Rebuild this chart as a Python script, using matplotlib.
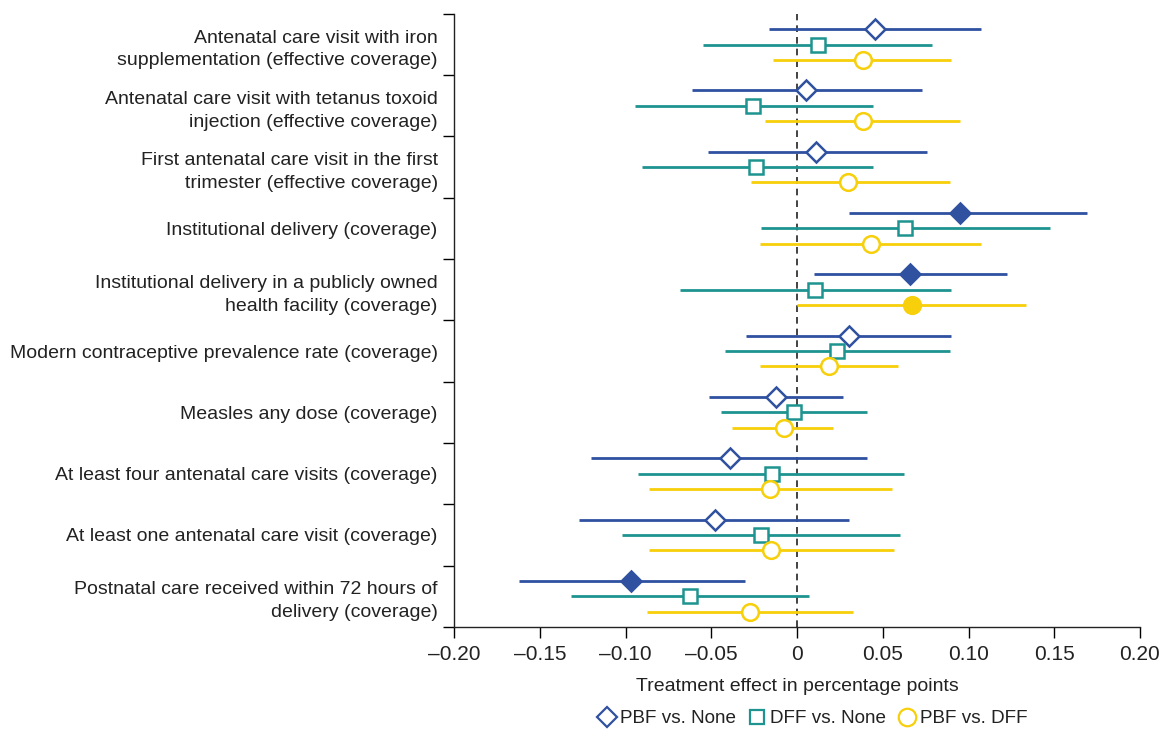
import numpy as np
import matplotlib
matplotlib.use('Agg')
import matplotlib.pyplot as plt
from matplotlib.lines import Line2D

plt.rcParams['font.family'] = ['Liberation Sans', 'DejaVu Sans']

outcomes = [
    'Antenatal care visit with iron\nsupplementation (effective coverage)',
    'Antenatal care visit with tetanus toxoid\ninjection (effective coverage)',
    'First antenatal care visit in the first\ntrimester (effective coverage)',
    'Institutional delivery (coverage)',
    'Institutional delivery in a publicly owned\nhealth facility (coverage)',
    'Modern contraceptive prevalence rate (coverage)',
    'Measles any dose (coverage)',
    'At least four antenatal care visits (coverage)',
    'At least one antenatal care visit (coverage)',
    'Postnatal care received within 72 hours of\ndelivery (coverage)',
]

# PBF vs. None
pbf_est = [0.0453, 0.0049, 0.0112, 0.0950, 0.0659, 0.0302, -0.0122, -0.0393, -0.0482, -0.0968]
pbf_lo = [-0.0164, -0.0614, -0.0523, 0.0302, 0.0096, -0.0297, -0.0515, -0.1200, -0.1275, -0.1624]
pbf_hi = [0.1072, 0.0729, 0.0755, 0.1692, 0.1226, 0.0898, 0.0268, 0.0409, 0.0302, -0.0302]
pbf_sig = [False, False, False, True, True, False, False, False, False, True]

# DFF vs. None
dff_est = [0.0120, -0.0255, -0.0239, 0.0632, 0.0102, 0.0232, -0.0016, -0.0148, -0.0213, -0.0625]
dff_lo = [-0.0547, -0.0947, -0.0906, -0.0208, -0.0685, -0.0419, -0.0442, -0.0927, -0.1020, -0.1317]
dff_hi = [0.0786, 0.0442, 0.0442, 0.1473, 0.0898, 0.0893, 0.0409, 0.0625, 0.0599, 0.0070]
dff_sig = [False] * 10

# PBF vs. DFF
pvd_est = [0.0385, 0.0385, 0.0299, 0.0429, 0.0669, 0.0187, -0.0078, -0.0159, -0.0154, -0.0273]
pvd_lo = [-0.0138, -0.0190, -0.0271, -0.0219, 0.0000, -0.0219, -0.0380, -0.0862, -0.0864, -0.0877]
pvd_hi = [0.0898, 0.0953, 0.0890, 0.1072, 0.1333, 0.0591, 0.0211, 0.0552, 0.0567, 0.0325]
pvd_sig = [False, False, False, False, True, False, False, False, False, False]

blue = '#2f51a0'
teal = '#1e9490'
yellow = '#f7cf0a'

series = [
    ('PBF vs. None', pbf_est, pbf_lo, pbf_hi, pbf_sig, blue, 'D', 10, -0.25),
    ('DFF vs. None', dff_est, dff_lo, dff_hi, dff_sig, teal, 's', 9.5, 0.0),
    ('PBF vs. DFF', pvd_est, pvd_lo, pvd_hi, pvd_sig, yellow, 'o', 12, 0.25),
]

fig = plt.figure(figsize=(11.65, 7.29), dpi=100)
ax = fig.add_axes([0.39, 0.140, 0.5885, 0.841])

pos = np.arange(len(outcomes))
ax.axvline(0, color='#222222', ls=(0, (4, 3)), lw=1.2, zorder=1)

for name, est, lo, hi, sig, col, mk, ms, off in series:
    y = pos + off
    ax.hlines(y, lo, hi, color=col, lw=2, zorder=2)
    for yi, e, s in zip(y, est, sig):
        ax.plot(e, yi, marker=mk, ms=ms, mec=col, mew=1.8,
                mfc=col if s else 'white', ls='none', zorder=3)

ax.set_xlim(-0.2, 0.2)
ax.set_ylim(len(outcomes) - 0.5, -0.5)
ticks = np.arange(-0.20, 0.201, 0.05)
ax.set_xticks(ticks)
ax.set_xticklabels(['0' if abs(t) < 1e-9 else f'{t:.2f}'.replace('-', '\u2013') for t in ticks])
ax.set_yticks(pos)
ax.set_yticklabels(outcomes, fontsize=14, linespacing=1.45, color='#222222')
ax.set_yticks(np.arange(-0.5, len(outcomes)), minor=True)
ax.tick_params(axis='y', which='major', length=0, pad=12)
ax.tick_params(axis='y', which='minor', length=8, width=1, direction='out')
ax.tick_params(axis='x', length=8, width=1, labelsize=15, pad=5, labelcolor='#222222')
for lab in ax.get_yticklabels():
    lab.set_horizontalalignment('right')
for sp in ['top', 'right']:
    ax.spines[sp].set_visible(False)
for sp in ['left', 'bottom']:
    ax.spines[sp].set_color('#222222')
    ax.spines[sp].set_linewidth(1)

ax.set_xlabel('Treatment effect in percentage points', fontsize=14, labelpad=10, color='#222222')

handles = [Line2D([], [], marker=mk, ms=ms * 1.05, mec=col, mew=1.6, mfc='white', ls='none')
           for name, est, lo, hi, sig, col, mk, ms, off in series]
leg = fig.legend(handles, [s[0] for s in series], loc='center', bbox_to_anchor=(0.697, 0.014),
                 ncol=3, frameon=False, fontsize=13.6, handletextpad=0.1, columnspacing=0.5,
                 handlelength=1.2)
for t in leg.get_texts():
    t.set_color('#222222')

fig.savefig('out.png', dpi=100)
